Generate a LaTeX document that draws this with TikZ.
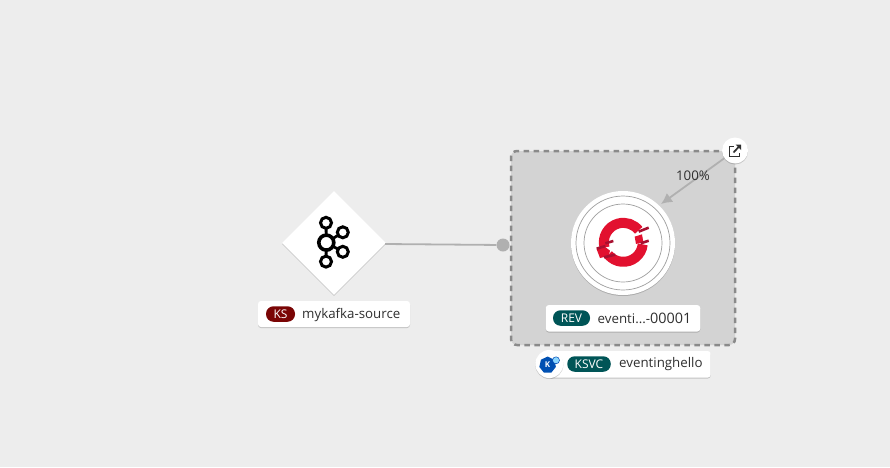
\documentclass[tikz,border=0pt]{standalone}
\usepackage{fontspec}
\setmainfont{Open Sans}
\usetikzlibrary{shapes.geometric,shadows,arrows.meta}
\definecolor{bgc}{HTML}{EDEDED}
\definecolor{groupc}{HTML}{D3D3D3}
\definecolor{dashc}{HTML}{8A8A8A}
\definecolor{edgec}{HTML}{B0B0B0}
\definecolor{tealc}{HTML}{005557}
\definecolor{ksc}{HTML}{7A0505}
\definecolor{redc}{HTML}{E2112F}
\definecolor{darkredc}{HTML}{A81030}
\definecolor{txtc}{HTML}{2F2F2F}
\tikzset{
  softshadow/.style={drop shadow={shadow xshift=0pt,shadow yshift=-1pt,opacity=.18,fill=black}},
  labelbox/.style={fill=white,rounded corners=3pt,inner sep=0pt,softshadow},
  pill/.style={fill=#1,rounded corners=7.5pt,inner sep=0pt,minimum height=15.5pt,text=white,font=\fontsize{12}{12}\selectfont},
  labeltxt/.style={anchor=west,inner sep=0pt,text=txtc,font=\fontsize{13.3}{14}\selectfont},
  ring/.style={circle,draw=black,fill=white,inner sep=0pt,line width=3pt,minimum size=#1},
  thin ring/.style={circle,draw=#1,line width=.7pt,inner sep=0pt},
  edgeline/.style={draw=edgec,line width=1.8pt},
}
\begin{document}
\begin{tikzpicture}[x=1pt,y=-1pt]
\useasboundingbox (0,0) rectangle (890,467);
\fill[bgc] (0,0) rectangle (890,467);

% group
\node[draw=dashc,fill=groupc,line width=2.5pt,dash pattern=on 5.5pt off 4.5pt,rounded corners=6pt,minimum width=224pt,minimum height=194pt,inner sep=0pt] (group) at (623,248) {};

% source diamond
\node[diamond,fill=white,inner sep=0pt,minimum width=104pt,minimum height=104pt,softshadow] (source) at (334,243) {};

% connector to port
\node[circle,fill=edgec,inner sep=0pt,minimum size=13pt] (port) at (503,245) {};
\coordinate (srcEnd) at (385,244);
\draw[edgeline] (srcEnd) -- (port);

% revision
\node[circle,fill=white,inner sep=0pt,minimum size=104pt,softshadow] (rev) at (623,243) {};
\node[thin ring=gray!75,minimum size=94pt] (revA) at (623,243) {};
\node[thin ring=gray!75,minimum size=78pt] (revB) at (623,243) {};

% kafka icon
\draw[line width=2.8pt] (326.3,242.6) coordinate (kk0) -- (326,222.8) (kk0) -- (342.8,232.3) (kk0) -- (342.8,251.8) (kk0) -- (326,261.6);
\node[ring=15pt,line width=3.6pt] (kc) at (326.3,242.6) {};
\node[ring=11pt] (k1) at (326,222.8) {};
\node[ring=11pt] (k2) at (342.8,232.3) {};
\node[ring=11pt] (k3) at (342.8,251.8) {};
\node[ring=11pt] (k4) at (326,261.6) {};

% openshift logo
\begin{scope}[shift={(560,180)},x=.3333pt,y=-.3333pt]
  \coordinate (lc) at (190,187);
  \draw[redc,line width=10pt] (lc) ++(195:19.5pt) arc[start angle=195,end angle=38,radius=19.5pt];
  \draw[redc,line width=10pt] (lc) ++(-6:19.5pt) arc[start angle=-6,end angle=-140,radius=19.5pt];
  \fill[redc] (224,170) -- (246,163) -- (250,186) -- (228,192) -- cycle;
  \fill[redc] (110,208) -- (134,200) -- (150,212) -- (146,228) -- (120,234) -- cycle;
  \draw[darkredc,line width=2.6pt] (236,155) -- (266,143);
  \draw[darkredc,line width=2.6pt] (242,190) -- (266,182);
  \draw[darkredc,line width=2.6pt] (110,206) -- (136,198);
  \draw[darkredc,line width=2.6pt] (132,232) -- (166,224);
  \draw[darkredc,line width=2.6pt] (136,190) -- (160,183);
\end{scope}

% external link
\node[circle,fill=white,inner sep=0pt,minimum size=26pt,softshadow] (ext) at (735,150.5) {};
\coordinate (tip) at (661,204);
\draw[draw=edgec,line width=1.8pt,-{Latex[length=11pt,width=11pt]}] (ext) -- (tip);
\node[inner sep=0pt,text=txtc,font=\fontsize{13.3}{14}\selectfont] (pct) at (693,176) {100\%};
\draw[txtc,line width=1.5pt] (733.5,146.5) -- (729.5,146.5) -- (729.5,156.5) -- (739.5,156.5) -- (739.5,152.5);
\draw[txtc,line width=1.7pt] (733.5,152.5) -- (739.5,146);
\fill[txtc] (735.5,144.5) -- (741.2,144.5) -- (741.2,150.2) -- cycle;

% KS label
\node[labelbox,minimum width=152pt,minimum height=26pt] (ksbox) at (334,314) {};
\node[pill=ksc,minimum width=29pt] (kspill) at (280.5,314) {KS};
\node[labeltxt] (kstxt) at (302,314.5) {mykafka-source};

% REV label
\node[labelbox,minimum width=154.5pt,minimum height=26.5pt] (revbox) at (623,318.3) {};
\node[pill=tealc,minimum width=37pt] (revpill) at (571.5,318) {REV};
\node[labeltxt] (revtxt) at (597.5,318.5) {eventi...-{\fontsize{14.4}{14}\selectfont 00001}};

% KSVC label
\node[labelbox,minimum width=162pt,minimum height=26.5pt] (ksvcbox) at (629.7,364.3) {};
\node[circle,fill=white,inner sep=0pt,minimum size=28pt,softshadow] (kicon) at (549.3,364) {};
\node[regular polygon,regular polygon sides=7,fill=blue!55!cyan!70!black,inner sep=0pt,minimum size=17pt] (khept) at (547.6,365) {};
\node[inner sep=0pt,text=white,font=\fontsize{8}{8}\bfseries\selectfont] (kk) at (547.6,365) {K};
\node[circle,fill=blue!35!cyan!45,draw=blue!60!cyan!70!black,line width=.5pt,inner sep=0pt,minimum size=7pt] (kn) at (556,360.3) {};
\node[pill=tealc,minimum width=43.5pt] (ksvcpill) at (589,364) {KSVC};
\node[labeltxt] (ksvctxt) at (619,364.5) {eventinghello};
\end{tikzpicture}
\end{document}
